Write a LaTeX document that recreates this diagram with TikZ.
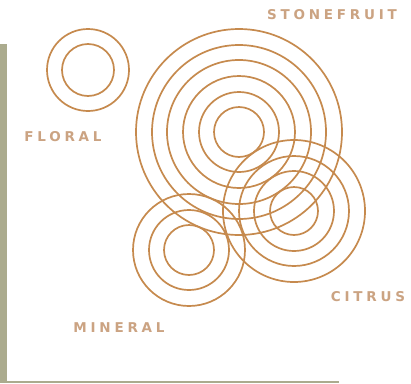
\documentclass[tikz,border=0pt]{standalone}
\usepackage{fontspec}
\setmainfont{DejaVu Sans}
\newfontfamily\tagfont[LetterSpace=28]{DejaVu Sans Bold}
\usetikzlibrary{positioning}

\definecolor{copper}{HTML}{C68A4E}
\definecolor{tagtext}{HTML}{CBA382}
\definecolor{olive}{HTML}{ABAB8E}

\begin{document}
\begin{tikzpicture}[x=1pt,y=-1pt,
	ring/.style={draw=copper,line width=1.7pt},
	tag/.style={text=tagtext,inner sep=0pt,font=\tagfont\fontsize{13.5}{13.5}\selectfont}]
	\useasboundingbox (0,0) rectangle (411,383);
	% paper behind the card
	\fill[white] (0,0) rectangle (411,383);
	\fill[olive] (0,44) rectangle (7,383);
	\fill[olive] (0,381) rectangle (339,383);

	\coordinate (floral) at (88,70);
	\coordinate (stone) at (239,132);
	\coordinate (citrus) at (294,211);
	\coordinate (mineral) at (189,250);

	\foreach \r in {26,41}
		\draw[ring] (floral) circle[radius=\r pt];
	\foreach \r in {25,40,56,72,87,103}
		\draw[ring] (stone) circle[radius=\r pt];
	\foreach \r in {24,40,55,71}
		\draw[ring] (citrus) circle[radius=\r pt];
	\foreach \r in {25,40,56}
		\draw[ring] (mineral) circle[radius=\r pt];

	\node[tag] (stoneLbl) at (332,15) {STONEFRUIT};
	\node[tag] (floralLbl) at (63,137) {FLORAL};
	\node[tag] (citrusLbl) at (368,297) {CITRUS};
	\node[tag] (mineralLbl) at (119,328) {MINERAL};
\end{tikzpicture}
\end{document}
